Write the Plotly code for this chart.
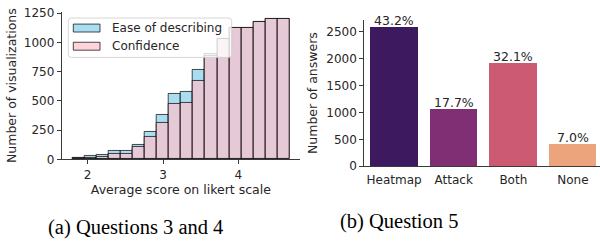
import plotly.graph_objects as go

# ---------------- data ----------------
bin_start = 1.8
bin_width = 0.16
ease_counts = [12, 25, 40, 75, 75, 125, 235, 378, 561, 572, 763, 905, 1030, 1127, 1122, 1176, 1197, 1197]
conf_counts = [8, 12, 24, 45, 45, 107, 190, 312, 475, 483, 671, 885, 1025, 1122, 1120, 1176, 1197, 1197]
hist_ticks = [2, 3, 4]
hist_yticks = [0, 250, 500, 750, 1000, 1250]
series_names = ["Ease of describing", "Confidence"]

answer_cats = ["Heatmap", "Attack", "Both", "None"]
answer_counts = [2592, 1062, 1926, 420]
answer_yticks = [0, 500, 1000, 1500, 2000, 2500]
answer_colors = ["#3d1a5f", "#812f74", "#cb5a72", "#eca47c"]

# ---------------- figure ----------------
W, H = 600, 243
FONT = "DejaVu Sans"
TXT = "#262626"
AX = "#3a3a3a"
EASE_FILL = "rgba(135,206,235,0.7)"
CONF_FILL = "rgba(255,192,203,0.7)"
EDGE = "rgba(0,0,0,0.7)"

bin_centers = [bin_start + bin_width * (i + 0.5) for i in range(len(ease_counts))]

fig = go.Figure()
fig.add_trace(go.Bar(
    x=bin_centers, y=ease_counts, width=bin_width, name=series_names[0],
    marker=dict(color=EASE_FILL, line=dict(color=EDGE, width=1)),
    xaxis="x", yaxis="y", showlegend=False,
))
fig.add_trace(go.Bar(
    x=bin_centers, y=conf_counts, width=bin_width, name=series_names[1],
    marker=dict(color=CONF_FILL, line=dict(color=EDGE, width=1)),
    xaxis="x", yaxis="y", showlegend=False,
))
fig.add_trace(go.Bar(
    x=answer_cats, y=answer_counts, width=0.8, showlegend=False,
    marker=dict(color=answer_colors, line=dict(width=0)),
    xaxis="x2", yaxis="y2",
))

total = sum(answer_counts)
annotations = []
for c, v in zip(answer_cats, answer_counts):
    annotations.append(dict(
        x=c, y=v, xref="x2", yref="y2", text=f"{100 * v / total:.1f}%",
        showarrow=False, yanchor="bottom", yshift=-3,
        font=dict(family=FONT, size=12.5, color=TXT),
    ))

annotations.append(dict(
    x=135.8 / W, y=1 - 234.5 / H, xref="paper", yref="paper",
    text="(a) Questions 3 and 4", showarrow=False,
    font=dict(family="Liberation Serif", size=20.5, color="black"),
    xanchor="center", yanchor="middle",
))
annotations.append(dict(
    x=399 / W, y=1 - 227.5 / H, xref="paper", yref="paper",
    text="(b) Question 5", showarrow=False,
    font=dict(family="Liberation Serif", size=20.5, color="black"),
    xanchor="center", yanchor="middle",
))

# ---- legend drawn as a matplotlib-style box (paper coordinates, px -> fraction)
def px(x):
    return x / W

def py(y):
    return 1 - y / H

bx0, by0, bx1, by1, r = 68.3, 12.7, 231.7, 54.3, 3
rounded = (
    f"M {px(bx0 + r)},{py(by0)} L {px(bx1 - r)},{py(by0)} "
    f"Q {px(bx1)},{py(by0)} {px(bx1)},{py(by0 + r)} "
    f"L {px(bx1)},{py(by1 - r)} Q {px(bx1)},{py(by1)} {px(bx1 - r)},{py(by1)} "
    f"L {px(bx0 + r)},{py(by1)} Q {px(bx0)},{py(by1)} {px(bx0)},{py(by1 - r)} "
    f"L {px(bx0)},{py(by0 + r)} Q {px(bx0)},{py(by0)} {px(bx0 + r)},{py(by0)} Z"
)
shapes = [dict(type="path", path=rounded, xref="paper", yref="paper",
               fillcolor="rgba(255,255,255,0.8)",
               line=dict(color="rgba(204,204,204,0.8)", width=1), layer="above")]
for (name, fill, yc) in zip(series_names, [EASE_FILL, CONF_FILL], [23.3, 42.5]):
    shapes.append(dict(type="rect", xref="paper", yref="paper",
                       x0=px(73.3), x1=px(100), y0=py(yc - 4.2), y1=py(yc + 4.2),
                       fillcolor=fill, line=dict(color=EDGE, width=1), layer="above"))
    annotations.append(dict(x=px(110), y=py(yc), xref="paper", yref="paper",
                            text=name, showarrow=False, xanchor="left", yanchor="middle",
                            font=dict(family=FONT, size=12, color=TXT)))

axis_common = dict(
    showgrid=False, zeroline=False, showline=True, linecolor=AX, linewidth=1,
    ticks="outside", ticklen=4, tickcolor=AX, tickwidth=1,
    tickfont=dict(family=FONT, size=12, color=TXT),
)

fig.update_layout(
    width=W, height=H,
    margin=dict(l=0, r=0, t=0, b=0),
    paper_bgcolor="white", plot_bgcolor="white",
    barmode="overlay", bargap=0,
    font=dict(family=FONT, color=TXT),
    showlegend=False,
    xaxis=dict(
        axis_common, domain=[61.7 / W, 300 / W], range=[1.655, 4.819],
        tickvals=hist_ticks, anchor="y",
        title=dict(text="Average score on likert scale", standoff=3,
                   font=dict(family=FONT, size=12.5, color=TXT)),
    ),
    yaxis=dict(
        axis_common, domain=[1 - 162 / H, 1 - 6.3 / H], range=[0, 1260],
        tickvals=hist_yticks, anchor="x",
        title=dict(text="Number of visualizations", standoff=4,
                   font=dict(family=FONT, size=12.5, color=TXT)),
    ),
    xaxis2=dict(
        axis_common, domain=[364.3 / W, 1.0], range=[-0.5, 3.454],
        ticks="", anchor="y2", ticklabelstandoff=2,
    ),
    yaxis2=dict(
        axis_common, domain=[1 - 169.3 / H, 1 - 14.7 / H], range=[0, 2722],
        tickvals=answer_yticks, anchor="x2",
        title=dict(text="Number of answers", standoff=5,
                   font=dict(family=FONT, size=12.5, color=TXT)),
    ),
    shapes=shapes,
    annotations=annotations,
)

fig.write_html(
    "out.html",
    config={"displayModeBar": False},
    post_script="document.body.style.margin='0';document.body.style.overflow='hidden';",
)
